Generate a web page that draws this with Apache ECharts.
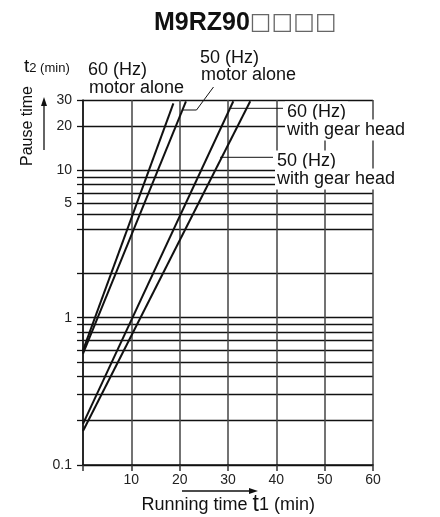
<!DOCTYPE html>
<html><head><meta charset="utf-8">
<script src="https://cdn.jsdelivr.net/npm/echarts@6/dist/echarts.min.js"></script>
<style>html,body{margin:0;padding:0;background:#fff}#c{width:440px;height:517px}</style>
</head><body><div id="c"></div>
<script>
// ---- data ----
const titleMain = 'M9RZ90';
const titleSuffix = '□□□□';
const xTickValues = [0, 10, 20, 30, 40, 50, 60];
const xTickLabels = ['', '10', '20', '30', '40', '50', '60'];
const yGridValues = [0.1, 0.2, 0.3, 0.4, 0.5, 0.6, 0.7, 0.8, 0.9, 1, 2, 4, 5, 6, 7, 8, 9, 10, 20, 30];
const yLabelValues = [0.1, 1, 6, 10, 20, 30];
const yLabelTexts = ['0.1', '1', '5', '10', '20', '30'];
const seriesNames = ['60 (Hz) motor alone', '50 (Hz) motor alone', '60 (Hz) with gear head', '50 (Hz) with gear head'];
const runTime60Motor = [0, 18.7];
const pause60Motor = [0.6, 28.5];
const runTime50Motor = [0, 21.3];
const pause50Motor = [0.57, 29.4];
const runTime60Gear = [0, 31.1];
const pause60Gear = [0.19, 29.4];
const runTime50Gear = [0, 34.6];
const pause50Gear = [0.17, 29.4];

const FONT = '"Liberation Sans", Arial, Helvetica, sans-serif';
const pairs = (xs, ys) => xs.map((x, i) => [x, ys[i]]);
const ink = '#111';

const chart = echarts.init(document.getElementById('c'), null, {renderer: 'canvas'});

function labelFor(v) {
  for (let i = 0; i < yLabelValues.length; i++) {
    if (Math.abs(Math.log10(v) - Math.log10(yLabelValues[i])) < 1e-6) return yLabelTexts[i];
  }
  return '';
}

const lineSeries = [
  [runTime60Motor, pause60Motor],
  [runTime50Motor, pause50Motor],
  [runTime60Gear, pause60Gear],
  [runTime50Gear, pause50Gear]
].map((d, i) => ({
  name: seriesNames[i],
  type: 'line',
  data: pairs(d[0], d[1]),
  symbol: 'none',
  lineStyle: {color: ink, width: 2},
  z: 3,
  silent: true
}));

function txt(text, x, y, size, opts) {
  return {
    type: 'text', z: 100,
    style: Object.assign({
      text: text, x: x, y: y, fill: '#111',
      font: size + 'px ' + FONT,
      textAlign: 'left', align: 'left',
      textVerticalAlign: 'middle', verticalAlign: 'middle'
    }, opts || {})
  };
}
const white = {backgroundColor: '#fff', padding: [1, 2, 2, 2], lineHeight: 18};

const option = {
  animation: false,
  backgroundColor: '#fff',
  grid: {left: 83, top: 100, width: 290, height: 365, containLabel: false},
  xAxis: {
    type: 'value', min: 0, max: 60, interval: 10,
    axisLine: {show: true, onZero: false, lineStyle: {color: ink, width: 1.5}},
    axisTick: {show: true, length: 6, lineStyle: {color: '#333', width: 1.5}},
    axisLabel: {fontSize: 14, color: '#222', fontFamily: FONT, margin: 8,
      formatter: v => { const i = xTickValues.indexOf(v); return i >= 0 ? xTickLabels[i] : ''; }},
    splitLine: {show: true, lineStyle: {color: '#444', width: 1.5}}
  },
  yAxis: {
    type: 'log', logBase: 10, min: 0.1, max: 30,
    axisLine: {show: true, lineStyle: {color: ink, width: 1.5}},
    axisTick: {show: true, length: 6, customValues: yGridValues, lineStyle: {color: ink, width: 1.3}},
    axisLabel: {customValues: yLabelValues, fontSize: 14, color: '#222', fontFamily: FONT, margin: 11,
      formatter: v => labelFor(v)},
    splitLine: {show: true, lineStyle: {color: ink, width: 1.3}}
  },
  series: lineSeries,
  graphic: [
    {type: 'text', z: 100, style: {
      x: 154, y: 23, textVerticalAlign: 'middle', verticalAlign: 'middle',
      text: '{b|' + titleMain + '}{s|' + titleSuffix + '}',
      rich: {
        b: {fontSize: 25, fontWeight: 'bold', fontFamily: FONT, fill: '#111', color: '#111'},
        s: {fontSize: 23, fontFamily: '"DejaVu Sans", ' + FONT, fill: '#666', color: '#666'}
      }}},
    {type: 'text', z: 100, style: {
      x: 24, y: 67, textVerticalAlign: 'middle', verticalAlign: 'middle',
      text: '{t|t}{s|2 (min)}',
      rich: {
        t: {fontSize: 19, fontFamily: FONT, fill: '#111', color: '#111'},
        s: {fontSize: 13, fontFamily: FONT, fill: '#111', color: '#111', padding: [3, 0, 0, 0]}
      }}},
    {type: 'text', z: 100, x: 28, y: 126, rotation: Math.PI / 2, style: {
      x: 0, y: 0, text: 'Pause time', font: '16px ' + FONT, fill: '#111',
      textAlign: 'center', align: 'center', textVerticalAlign: 'middle', verticalAlign: 'middle'}},
    {type: 'line', z: 100, shape: {x1: 44, y1: 150, x2: 44, y2: 104}, style: {stroke: '#111', lineWidth: 1.3}},
    {type: 'polygon', z: 100, shape: {points: [[44, 97], [41, 106], [47, 106]]}, style: {fill: '#111'}},
    {type: 'line', z: 100, shape: {x1: 182, y1: 491, x2: 250, y2: 491}, style: {stroke: '#111', lineWidth: 1.3}},
    {type: 'polygon', z: 100, shape: {points: [[258, 491], [249, 488], [249, 494]]}, style: {fill: '#111'}},
    {type: 'text', z: 100, style: {
      x: 141.5, y: 505, textVerticalAlign: 'middle', verticalAlign: 'middle',
      text: '{n|Running time }{t|t}{n|1 (min)}',
      rich: {
        n: {fontSize: 18, fontFamily: FONT, fill: '#111', color: '#111'},
        t: {fontSize: 23, fontFamily: FONT, fill: '#111', color: '#111'}
      }}},
    txt('60 (Hz)', 88, 70, 18),
    txt('motor alone', 89, 88, 18),
    txt('50 (Hz)', 200, 58, 18),
    txt('motor alone', 201, 75, 18),
    txt('60 (Hz)', 285, 112, 18, white),
    txt('with gear head', 285, 130, 18, white),
    txt('50 (Hz)', 275, 161, 18, white),
    txt('with gear head', 275, 179, 18, white),
    {type: 'polyline', z: 100, shape: {points: [[182.7, 110], [196.5, 110], [213.5, 87]]}, style: {stroke: '#111', lineWidth: 1, fill: null}},
    {type: 'line', z: 100, shape: {x1: 231, y1: 108.3, x2: 283, y2: 108.3}, style: {stroke: '#111', lineWidth: 1}},
    {type: 'line', z: 100, shape: {x1: 220, y1: 157.3, x2: 273, y2: 157.3}, style: {stroke: '#111', lineWidth: 1}}
  ]
};
chart.setOption(option);
</script>
</body></html>
